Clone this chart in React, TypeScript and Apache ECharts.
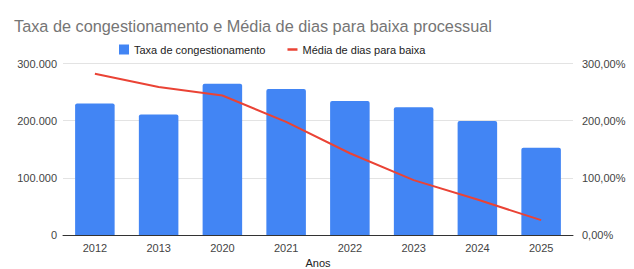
import React, { useEffect, useRef } from "react";
import * as echarts from "echarts";

const categories = ["2012", "2013", "2020", "2021", "2022", "2023", "2024", "2025"];
const congestionamento = [230000, 211000, 264500, 255500, 234500, 223500, 199500, 152500];
const mediaDias = [282, 259, 244, 198, 143, 96, 62, 26];

const fmtLeft = (v: number) => (v === 0 ? "0" : v.toLocaleString("de-DE"));
const fmtRight = (v: number) => v.toFixed(2).replace(".", ",") + "%";

export default function App() {
  const ref = useRef<HTMLDivElement>(null);
  useEffect(() => {
    if (!ref.current) return;
    const chart = echarts.init(ref.current, null, { renderer: "svg" });
    const font = "Arial, 'Liberation Sans', sans-serif";
    chart.setOption({
      animation: false,
      textStyle: { fontFamily: font },
      title: {
        text: "Taxa de congestionamento e Média de dias para baixa processual",
        left: 9,
        top: 13,
        textStyle: { fontSize: 16.3, fontWeight: "normal", color: "#757575", fontFamily: font },
      },
      legend: {
        left: 114,
        top: 39,
        itemWidth: 10,
        itemHeight: 10,
        itemGap: 22,
        textStyle: { fontSize: 11, color: "#222", fontFamily: font },
        data: [
          { name: "Taxa de congestionamento", icon: "rect" },
          { name: "Média de dias para baixa", icon: "path://M0,4 L10,4 L10,6.5 L0,6.5 Z" },
        ],
      },
      grid: { left: 63, right: 61, top: 63.5, bottom: 34, containLabel: false, outerBoundsMode: "none" },
      xAxis: {
        type: "category",
        data: categories,
        name: "Anos",
        nameLocation: "middle",
        nameGap: 20,
        nameTextStyle: { fontSize: 11, color: "#222", verticalAlign: "top" },
        axisTick: { show: false },
        axisLine: { lineStyle: { color: "#333", width: 1 } },
        axisLabel: { fontSize: 11, color: "#444", margin: 7 },
      },
      yAxis: [
        {
          type: "value",
          min: 0,
          max: 300000,
          interval: 100000,
          axisLabel: { formatter: fmtLeft, fontSize: 11, color: "#444", margin: 6 },
          splitLine: { lineStyle: { color: "#e3e3e3" } },
          axisLine: { show: false },
          axisTick: { show: false },
        },
        {
          type: "value",
          min: 0,
          max: 300,
          interval: 100,
          axisLabel: { formatter: fmtRight, fontSize: 11, color: "#444", margin: 9 },
          splitLine: { show: false },
          axisLine: { show: false },
          axisTick: { show: false },
        },
      ],
      series: [
        {
          name: "Taxa de congestionamento",
          type: "bar",
          data: congestionamento,
          barWidth: "62%",
          itemStyle: { color: "#4285F4", borderRadius: [2, 2, 0, 0] },
        },
        {
          name: "Média de dias para baixa",
          type: "line",
          yAxisIndex: 1,
          data: mediaDias,
          showSymbol: false,
          symbol: "none",
          lineStyle: { color: "#EA4335", width: 2 },
          itemStyle: { color: "#EA4335" },
        },
      ],
    });
    return () => chart.dispose();
  }, []);
  return <div ref={ref} style={{ width: 634, height: 269, position: "absolute", left: 0, top: 0 }} />;
}
